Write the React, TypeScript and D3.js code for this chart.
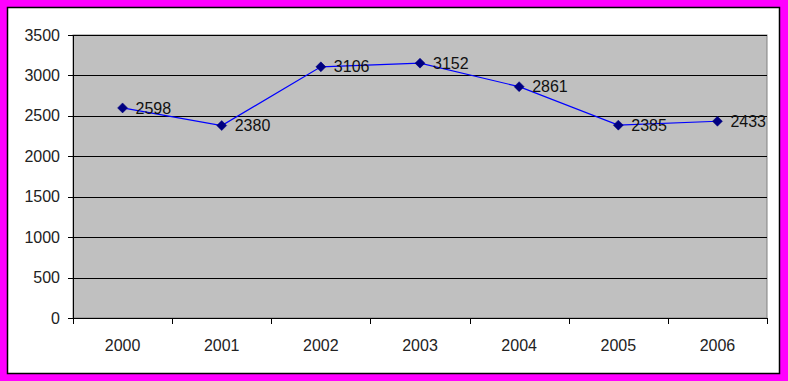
import React from "react";
import * as d3 from "d3";

const years = ["2000", "2001", "2002", "2003", "2004", "2005", "2006"];
const values = [2598, 2380, 3106, 3152, 2861, 2385, 2433];
const yTicks = [0, 500, 1000, 1500, 2000, 2500, 3000, 3500];

const W = 788;
const H = 381;
const plot = { left: 73, top: 35, right: 767, bottom: 318 };

export default function App() {
  const x = d3.scaleBand<string>().domain(years).range([plot.left, plot.right]);
  const y = d3.scaleLinear().domain([0, 3500]).range([plot.bottom, plot.top]);
  const cx = (d: string) => (x(d) as number) + x.bandwidth() / 2;
  const line = d3
    .line<number>()
    .x((_, i) => cx(years[i]))
    .y((v) => y(v));
  const font = "'Liberation Sans', Arial, sans-serif";
  const boundaries = years.map((d) => x(d) as number).concat([plot.right]);
  return (
    <svg
      width={W}
      height={H}
      style={{ position: "absolute", left: 0, top: 0, display: "block" }}
    >
      <rect x={0} y={0} width={W} height={H} fill="#FF00FF" />
      <rect x={7.5} y={7.5} width={772} height={366} fill="#FFFFFF" stroke="#000" strokeWidth={1.5} />
      <rect
        x={plot.left}
        y={plot.top}
        width={plot.right - plot.left}
        height={plot.bottom - plot.top}
        fill="#C0C0C0"
        stroke="#808080"
        strokeWidth={1}
      />
      {yTicks.map((t) => (
        <g key={t}>
          <line
            x1={plot.left - 5}
            x2={t === 0 ? plot.left : plot.right}
            y1={Math.round(y(t)) + 0.5}
            y2={Math.round(y(t)) + 0.5}
            stroke="#000"
          />
          <text
            x={60}
            y={y(t)}
            dy="0.35em"
            textAnchor="end"
            fontFamily={font}
            fontSize={16}
            fill="#222"
          >
            {t}
          </text>
        </g>
      ))}
      <line x1={plot.left + 0.5} x2={plot.left + 0.5} y1={plot.top} y2={plot.bottom} stroke="#000" />
      <line x1={plot.left} x2={plot.right} y1={Math.round(y(0)) + 0.5} y2={Math.round(y(0)) + 0.5} stroke="#000" />
      {boundaries.map((b, i) => (
        <line
          key={i}
          x1={Math.round(b) + 0.5}
          x2={Math.round(b) + 0.5}
          y1={plot.bottom}
          y2={plot.bottom + 6}
          stroke="#000"
        />
      ))}
      {years.map((d) => (
        <text
          key={d}
          x={cx(d)}
          y={345}
          dy="0.35em"
          textAnchor="middle"
          fontFamily={font}
          fontSize={16}
          fill="#222"
        >
          {d}
        </text>
      ))}
      <path d={line(values) || ""} fill="none" stroke="#0000FF" strokeWidth={1.2} />
      {values.map((v, i) => {
        const px = cx(years[i]);
        const py = y(v);
        return (
          <g key={i}>
            <path
              d={`M${px},${py - 5}L${px + 5},${py}L${px},${py + 5}L${px - 5},${py}Z`}
              fill="#000080"
              stroke="#000080"
              strokeWidth={0.5}
            />
            <text
              x={px + 13}
              y={py}
              dy="0.35em"
              fontFamily={font}
              fontSize={16}
              fill="#111"
            >
              {v}
            </text>
          </g>
        );
      })}
    </svg>
  );
}
